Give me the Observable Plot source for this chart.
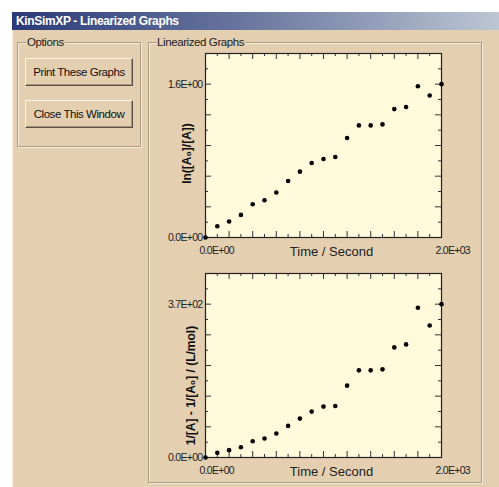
<!DOCTYPE html>
<html>
<head>
<meta charset="utf-8">
<script src="https://cdn.jsdelivr.net/npm/d3@7"></script>
<script src="https://cdn.jsdelivr.net/npm/@observablehq/plot@0.6"></script>
<style>
  html, body { margin: 0; padding: 0; background: #ffffff; }
  body { width: 499px; height: 487px; position: relative; overflow: hidden; font-family: "Liberation Sans", Arial, sans-serif; }
  #win { position: absolute; left: 12px; top: 12px; width: 487px; height: 475px; background: #e4cfb1; border-left: 1px solid #f6ecdc; box-sizing: border-box; }
  #titlebar { position: absolute; left: 12px; top: 12px; width: 487px; height: 18px; background: linear-gradient(to right, #2a3a78, #6c7aa0 50%, #bcc6d4); color: #fff; font: bold 12px "Liberation Sans", Arial, sans-serif; letter-spacing: -0.35px; line-height: 18px; padding-left: 4px; box-sizing: border-box; white-space: nowrap; }
  .group { position: absolute; border: 1px solid #ad9c84; box-shadow: 1px 1px 0 #f6ecdc, inset 1px 1px 0 #f6ecdc; }
  .glabel { position: absolute; top: -8px; background: #e4cfb1; padding: 0 1px; font: 11.5px "Liberation Sans", Arial, sans-serif; letter-spacing: -0.4px; color: #222; line-height: 14px; white-space: nowrap; }
  .btn { position: absolute; left: 25px; width: 108px; height: 28px; box-sizing: border-box; background: #e4cfb1; border-top: 1px solid #fbf4e8; border-left: 1px solid #fbf4e8; border-right: 1px solid #5a4f44; border-bottom: 1px solid #5a4f44; box-shadow: inset -1px -1px 0 #a8967e; font: 11.5px "Liberation Sans", Arial, sans-serif; letter-spacing: -0.45px; color: #111; text-align: center; line-height: 26px; white-space: nowrap; }
  .plotbox { position: absolute; }
</style>
</head>
<body>
<div id="win"></div>
<div id="titlebar">KinSimXP - Linearized Graphs</div>
<div class="group" style="left:17px; top:42px; width:122px; height:103px;"><span class="glabel" style="left:8px;">Options</span></div>
<div class="btn" style="top:58px;">Print These Graphs</div>
<div class="btn" style="top:100px;">Close This Window</div>
<div class="group" style="left:148px; top:42px; width:332px; height:439px;"><span class="glabel" style="left:7px;">Linearized Graphs</span></div>
<div class="plotbox" id="p1" style="left:150px; top:48px;"></div>
<div class="plotbox" id="p2" style="left:150px; top:268px;"></div>
<script>
// ---- data ----
const times = [0, 100, 200, 300, 400, 500, 600, 700, 800, 900, 1000, 1100, 1200, 1300, 1400, 1500, 1600, 1700, 1800, 1900, 2000];
const lnRatio = [0, 0.118, 0.167, 0.236, 0.347, 0.389, 0.469, 0.590, 0.687, 0.777, 0.819, 0.840, 1.038, 1.170, 1.170, 1.180, 1.340, 1.361, 1.579, 1.482, 1.600];
const invDiff = [0, 11.2, 17.7, 24.9, 39.3, 45.7, 57.8, 76.2, 93.9, 110.8, 122.8, 124.4, 173.4, 210.3, 210.3, 212.7, 265.7, 272.9, 361.2, 318.6, 370];
const xTickValues = [0, 2000];
const xTickLabels = ["0.0E+00", "2.0E+03"];
const y1TickValues = [0, 1.6];
const y1TickLabels = ["0.0E+00", "1.6E+00"];
const y2TickValues = [0, 370];
const y2TickLabels = ["0.0E+00", "3.7E+02"];
const xDomain = [0, 2000];
const y1Domain = [0, 1.92];
const y2Domain = [0, 444];
const xMajor = d3.range(0, 2001, 200);
const xMinor = d3.range(100, 2000, 200);
const y1Major = d3.range(0, 6).map(i => i * 0.32);
const y1Minor = d3.range(0, 6).map(i => i * 0.32 + 0.16);
const y2Major = d3.range(0, 6).map(i => i * 74);
const y2Minor = d3.range(0, 6).map(i => i * 74 + 37);
const xTitle = "Time / Second";
const y1Title = "ln([A\u2080]/[A])";
const y2Title = "1/[A] - 1/[A\u2080] / (L/mol)";

const W = 330, H = 215;
const M = {left: 55, right: 39, top: 5, bottom: 26};
const innerH = H - M.top - M.bottom;
const innerW = W - M.left - M.right;
const tickFont = {fontFamily: "Liberation Sans, Arial, sans-serif", fontSize: 10.5, fill: "#222"};

function makePlot(yVals, yDomain, yMajor, yMinor, yTickVals, yTickLabs, yTitle, yTitleDx, yTitleDy) {
  const pts = times.map((t, i) => ({t, v: yVals[i]}));
  const tickColor = "#333";
  return Plot.plot({
    width: W, height: H,
    marginLeft: M.left, marginRight: M.right, marginTop: M.top, marginBottom: M.bottom,
    style: {background: "transparent", overflow: "visible"},
    x: {domain: xDomain, axis: null},
    y: {domain: yDomain, axis: null},
    marks: [
      Plot.frame({fill: "#fffadb", stroke: null}),
      // inward ticks bottom/top
      Plot.ruleX(xMajor, {x: d => d, insetTop: innerH - 6, stroke: tickColor}),
      Plot.ruleX(xMinor, {x: d => d, insetTop: innerH - 3, stroke: tickColor}),
      Plot.ruleX(xMajor, {x: d => d, insetBottom: innerH - 6, stroke: tickColor}),
      Plot.ruleX(xMinor, {x: d => d, insetBottom: innerH - 3, stroke: tickColor}),
      // inward ticks left/right
      Plot.ruleY(yMajor, {y: d => d, insetRight: innerW - 6, stroke: tickColor}),
      Plot.ruleY(yMinor, {y: d => d, insetRight: innerW - 3, stroke: tickColor}),
      Plot.ruleY(yMajor, {y: d => d, insetLeft: innerW - 6, stroke: tickColor}),
      Plot.ruleY(yMinor, {y: d => d, insetLeft: innerW - 3, stroke: tickColor}),
      Plot.frame({stroke: "#222", strokeWidth: 1.2}),
      Plot.dot(pts, {x: "t", y: "v", r: 2.3, fill: "#000", stroke: null}),
      // tick labels
      Plot.text(xTickValues, {x: d => d, text: (d, i) => xTickLabels[i], frameAnchor: "bottom", lineAnchor: "middle", dy: 13, dx: -6, textAnchor: "start", ...tickFont}),
      Plot.text(yTickVals, {y: d => d, text: (d, i) => yTickLabs[i], frameAnchor: "left", lineAnchor: "middle", dx: -3, textAnchor: "end", ...tickFont}),
      // titles
      Plot.text([xTitle], {text: d => d, frameAnchor: "bottom", lineAnchor: "middle", dy: 14, dx: 8, fontFamily: "Liberation Sans, Arial, sans-serif", fontSize: 13, fill: "#222"}),
      Plot.text([yTitle], {text: d => d, frameAnchor: "left", textAnchor: "middle", lineAnchor: "middle", rotate: -90, dx: yTitleDx, dy: yTitleDy, fontFamily: "Liberation Sans, Arial, sans-serif", fontSize: 12, fontWeight: "bold", fill: "#111"})
    ]
  });
}

const p1 = makePlot(lnRatio, y1Domain, y1Major, y1Minor, y1TickValues, y1TickLabels, y1Title, -18, 8);
const p2 = makePlot(invDiff, y2Domain, y2Major, y2Minor, y2TickValues, y2TickLabels, y2Title, -14, 20);
for (const p of [p1, p2]) {
  p.querySelectorAll("text").forEach(t => {
    if (/E[+-]\d\d/.test(t.textContent)) t.setAttribute("letter-spacing", "-0.7");
  });
}
document.getElementById("p1").appendChild(p1);
document.getElementById("p2").appendChild(p2);
</script>
</body>
</html>
